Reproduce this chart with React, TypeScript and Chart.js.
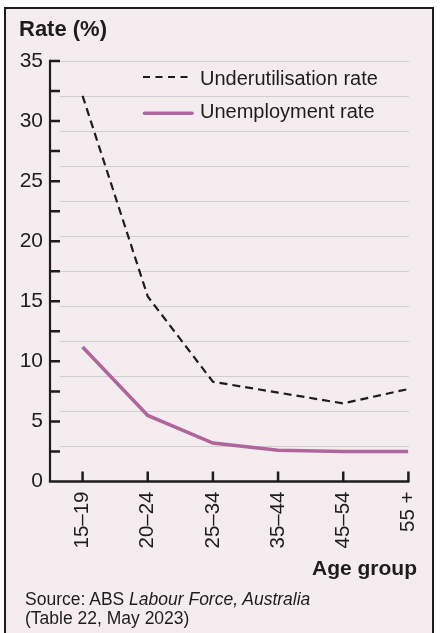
import React, { useEffect, useRef } from 'react';
import { Chart, registerables } from 'chart.js';

Chart.register(...registerables);

// ---- Data ----
const CATEGORIES = ['15–19', '20–24', '25–34', '35–44', '45–54', '55 +'];
const UNDERUTILISATION = [32.1, 15.4, 8.3, 7.4, 6.5, 7.7];
const UNEMPLOYMENT = [11.2, 5.5, 3.2, 2.6, 2.5, 2.5];
const SERIES_LABELS = ['Underutilisation rate', 'Unemployment rate'];
const Y_MIN = 0;
const Y_MAX = 35;
const Y_TICK_STEP = 2.5;
const Y_LABEL_STEP = 5;
const GRID_DIVISIONS = 12;

// ---- Style ----
const FONT = "'Liberation Sans', Arial, Helvetica, sans-serif";
const INK = '#1d1d1b';
const PINK = '#b0669d';
const GRID = '#cfcfcf';
const BG = '#f5ecf0';

const axesPlugin = {
  id: 'customAxes',
  beforeDatasetsDraw(chart: any) {
    const { ctx, chartArea, scales } = chart;
    const { left, right, top, bottom } = chartArea;
    const x = scales.x;
    const y = scales.y;
    ctx.save();
    // light grid lines (independent equal divisions)
    ctx.strokeStyle = GRID;
    ctx.lineWidth = 1;
    for (let k = 1; k <= GRID_DIVISIONS; k++) {
      const v = Y_MIN + ((Y_MAX - Y_MIN) * k) / GRID_DIVISIONS;
      const py = Math.round(y.getPixelForValue(v)) + 0.5;
      ctx.beginPath();
      ctx.moveTo(left + 10, py);
      ctx.lineTo(right + 0.5, py);
      ctx.stroke();
    }
    // axis lines
    ctx.strokeStyle = INK;
    ctx.lineCap = 'butt';
    ctx.lineJoin = 'miter';
    ctx.lineWidth = 2.2;
    ctx.beginPath();
    ctx.moveTo(left, top - 1.25);
    ctx.lineTo(left, bottom);
    ctx.stroke();
    ctx.lineWidth = 2.5;
    ctx.beginPath();
    ctx.moveTo(left - 1.1, bottom);
    ctx.lineTo(right + 1, bottom);
    ctx.stroke();
    // inward tick marks
    ctx.lineWidth = 2.5;
    ctx.beginPath();
    y.ticks.forEach((t: any) => {
      if (t.value === Y_MIN) return;
      const py = y.getPixelForValue(t.value);
      ctx.moveTo(left, py);
      ctx.lineTo(left + 10, py);
    });
    x.ticks.forEach((t: any) => {
      const px = x.getPixelForValue(t.value);
      ctx.moveTo(px, bottom);
      ctx.lineTo(px, bottom - 10);
    });
    ctx.stroke();
    ctx.restore();
  },
  afterDraw(chart: any) {
    const { ctx } = chart;
    ctx.save();
    // legend samples
    ctx.strokeStyle = INK;
    ctx.lineWidth = 2;
    ctx.setLineDash([7, 5.5]);
    ctx.beginPath();
    ctx.moveTo(143, 77);
    ctx.lineTo(193, 77);
    ctx.stroke();
    ctx.setLineDash([]);
    ctx.strokeStyle = PINK;
    ctx.lineWidth = 3.5;
    ctx.lineCap = 'round';
    ctx.beginPath();
    ctx.moveTo(144.5, 113.3);
    ctx.lineTo(192, 113.3);
    ctx.stroke();
    ctx.restore();
  },
};

export default function App() {
  const canvasRef = useRef<HTMLCanvasElement | null>(null);

  useEffect(() => {
    if (!canvasRef.current) return;
    const chart = new Chart(canvasRef.current, {
      type: 'line',
      data: {
        datasets: [
          {
            label: SERIES_LABELS[0],
            data: UNDERUTILISATION.map((v, i) => ({ x: i, y: v })),
            borderColor: INK,
            borderWidth: 2.2,
            borderDash: [8, 5],
            pointRadius: 0,
            tension: 0,
            fill: false,
          },
          {
            label: SERIES_LABELS[1],
            data: UNEMPLOYMENT.map((v, i) => ({ x: i, y: v })),
            borderColor: PINK,
            borderWidth: 3.5,
            pointRadius: 0,
            tension: 0,
            fill: false,
          },
        ],
      },
      options: {
        responsive: false,
        maintainAspectRatio: false,
        animation: false,
        layout: { padding: { left: 0, top: 61, right: 33.5, bottom: 71.5 } },
        plugins: {
          legend: { display: false },
          tooltip: { enabled: false },
          title: { display: false },
        },
        scales: {
          x: {
            type: 'linear',
            min: -0.5,
            max: CATEGORIES.length - 1,
            afterBuildTicks: (s: any) => {
              s.ticks = CATEGORIES.map((_, i) => ({ value: i }));
            },
            afterFit: (s: any) => {
              s.height = 80;
            },
            grid: { display: false, drawTicks: false },
            border: { display: false },
            ticks: {
              autoSkip: false,
              minRotation: 90,
              maxRotation: 90,
              padding: 10,
              color: INK,
              font: { family: FONT, size: 20.5 },
              callback: (v: any) => CATEGORIES[v] ?? '',
            },
          },
          y: {
            type: 'linear',
            min: Y_MIN,
            max: Y_MAX,
            afterFit: (s: any) => {
              s.width = 50;
            },
            grid: { display: false, drawTicks: false },
            border: { display: false },
            ticks: {
              stepSize: Y_TICK_STEP,
              padding: 7,
              color: INK,
              font: { family: FONT, size: 21 },
              callback: (v: any) => (Number(v) % Y_LABEL_STEP === 0 ? String(v) : ''),
            },
          },
        },
      },
      plugins: [axesPlugin],
    } as any);
    return () => chart.destroy();
  }, []);

  const base: React.CSSProperties = {
    position: 'absolute',
    fontFamily: FONT,
    color: INK,
    whiteSpace: 'nowrap',
    margin: 0,
  };

  return (
    <div style={{ position: 'fixed', left: 0, top: 0, width: 443, height: 633, overflow: 'hidden', background: '#fff' }}>
      <div
        style={{
          position: 'absolute',
          left: 4,
          top: 7,
          width: 426,
          height: 660,
          border: `2px solid ${INK}`,
          background: BG,
          boxSizing: 'content-box',
        }}
      />
      <canvas
        ref={canvasRef}
        width={443}
        height={633}
        style={{ position: 'absolute', left: 0, top: 0, width: 443, height: 633 }}
      />
      <div style={{ ...base, left: 19, top: 18, fontSize: 22, lineHeight: '22px', fontWeight: 700 }}>Rate (%)</div>
      <div style={{ ...base, left: 200, top: 68, fontSize: 20, lineHeight: '20px' }}>{SERIES_LABELS[0]}</div>
      <div style={{ ...base, left: 200, top: 101.4, fontSize: 20, lineHeight: '20px' }}>{SERIES_LABELS[1]}</div>
      <div style={{ ...base, right: 26, top: 557, fontSize: 21, lineHeight: '21px', fontWeight: 700 }}>Age group</div>
      <div style={{ ...base, left: 25, top: 590, fontSize: 17.5, lineHeight: '19px' }}>
        Source: ABS <i>Labour Force, Australia</i>
        <br />
        (Table 22, May 2023)
      </div>
    </div>
  );
}
